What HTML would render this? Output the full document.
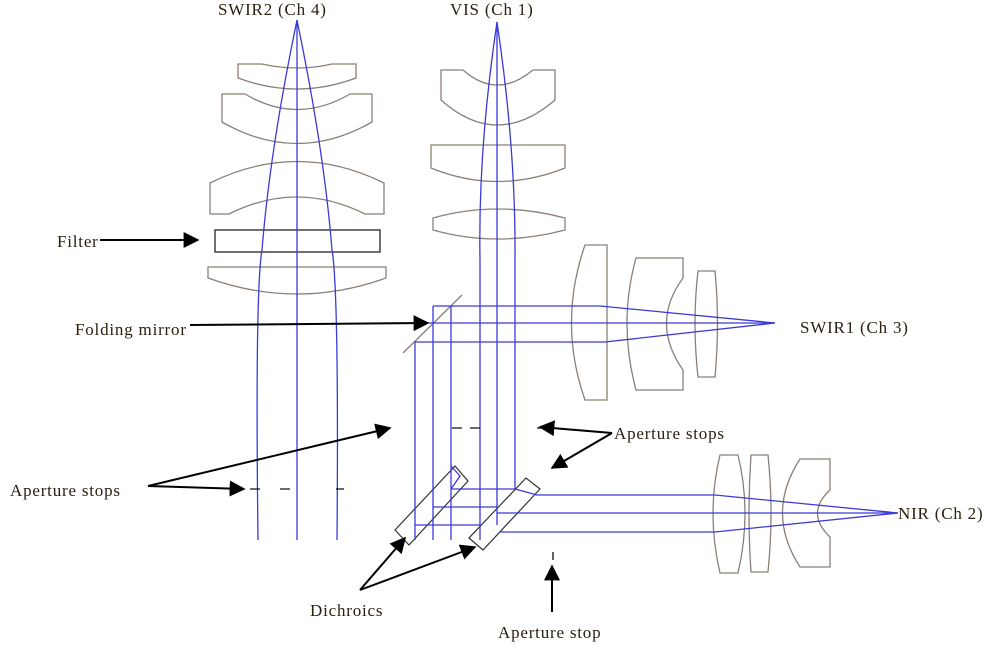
<!DOCTYPE html>
<html><head><style>
html,body{margin:0;padding:0;background:#fff;}
svg{display:block;}
text{font-family:"Liberation Serif",serif;font-size:17px;letter-spacing:0.8px;fill:#2a2010;}
</style></head><body>
<svg width="999" height="645" viewBox="0 0 999 645" xmlns="http://www.w3.org/2000/svg">
<defs><marker id="a" viewBox="0 0 10 10" refX="9" refY="5" markerWidth="8" markerHeight="8" orient="auto"><path d="M0,0L10,5L0,10z" fill="#000"/></marker></defs>
<g fill="none" stroke="#8a8078" stroke-width="1.3">
<path d="M238,64 L262,64 Q297,72 332,64 L356,64 L356,78 Q297,100 238,78 Z"/>
<path d="M222,94 L245,94 Q297,125 350,94 L372,94 L372,122 Q297,165 222,122 Z"/>
<path d="M210,183 Q297,140 384,183 L384,214 L365,214 Q297,180 229,214 L210,214 Z"/>
<path d="M208,267 L386,267 L386,278 Q297,310 208,278 Z"/>
<path d="M441,70 L463,70 Q497,100 533,70 L555,70 L555,100 Q497,150 441,100 Z"/>
<path d="M431,145 L565,145 L565,168 Q497,195 431,168 Z"/>
<path d="M433,218 Q497,200 565,218 L565,230 Q497,248 433,230 Z"/>
<path d="M585,245 L607,245 L607,400 L585,400 Q558,323 585,245 Z"/>
<path d="M636,258 L683,258 L683,278 Q650,323 683,370 L683,390 L636,390 Q618,323 636,258 Z"/>
<path d="M698,271 L715,271 Q720,323 715,377 L698,377 Q692,323 698,271 Z"/>
<path d="M720,455 L738,455 Q752,513 738,573 L720,573 Q706,513 720,455 Z"/>
<path d="M751,455 L768,455 Q774,513 768,572 L751,572 Q747,513 751,455 Z"/>
<path d="M800,459 L830,459 L830,490 Q805,513 830,537 L830,567 L800,567 Q765,513 800,459 Z"/>
<path d="M403,353 L462,295"/>
</g>
<rect x="215" y="230" width="165" height="22" fill="none" stroke="#222" stroke-width="1.3"/>
<g fill="none" stroke="#333" stroke-width="1.2">
<path d="M395,530 L409,545 L468,481 L455,466 Z"/>
<path d="M469,538 L483,550 L540,489 L526,478 Z"/>
</g>
<g fill="none" stroke="#3a3ad8" stroke-width="1.3">
<path d="M297,20 L297,540"/>
<path d="M297,20 Q270,150 262,250 Q255,290 258,540"/>
<path d="M297,20 Q324,150 332,250 Q339,290 337,540"/>
<path d="M497,22 L497,525"/>
<path d="M497,22 Q478,150 480,260 L480,540"/>
<path d="M497,22 Q516,150 515,260 L515,489"/>
<path d="M433,306 L600,306 L775,323 L605,342 L415,342 L415,540"/>
<path d="M433,306 L433,540"/>
<path d="M424,323 L775,323"/>
<path d="M451,306 L451,540"/>
<path d="M415,525 L480,525"/>
<path d="M433,507 L497,507"/>
<path d="M451,489 L515,489"/>
<path d="M451,489 L460,476 L451,466"/>
<path d="M515,489 L537,495 L715,495 L898,513 L715,532 L500,532"/>
<path d="M497,513 L898,513"/>
</g>
<g stroke="#111" stroke-width="1.3">
<path d="M250,489h10 M280,489h10 M336,489h8"/>
<path d="M452,428h10 M470,428h10"/>
<path d="M537,428h8"/>
<path d="M553,552v8"/>
</g>
<g stroke="#000" stroke-width="2" fill="none" marker-end="url(#a)">
<path d="M100,240 L198,240"/>
<path d="M190,325 L428,323"/>
<path d="M148,486 L390,428"/>
<path d="M148,486 L244,489"/>
<path d="M612,433 L540,427"/>
<path d="M612,433 L552,468"/>
<path d="M360,590 L405,538"/>
<path d="M360,590 L475,547"/>
<path d="M552,612 L552,566"/>
</g>
<text x="218" y="15">SWIR2 (Ch 4)</text>
<text x="450" y="15">VIS (Ch 1)</text>
<text x="57" y="247">Filter</text>
<text x="75" y="335">Folding mirror</text>
<text x="800" y="333">SWIR1 (Ch 3)</text>
<text x="614" y="439">Aperture stops</text>
<text x="10" y="496">Aperture stops</text>
<text x="898" y="519">NIR (Ch 2)</text>
<text x="310" y="616">Dichroics</text>
<text x="498" y="638">Aperture stop</text>
</svg>
</body></html>
